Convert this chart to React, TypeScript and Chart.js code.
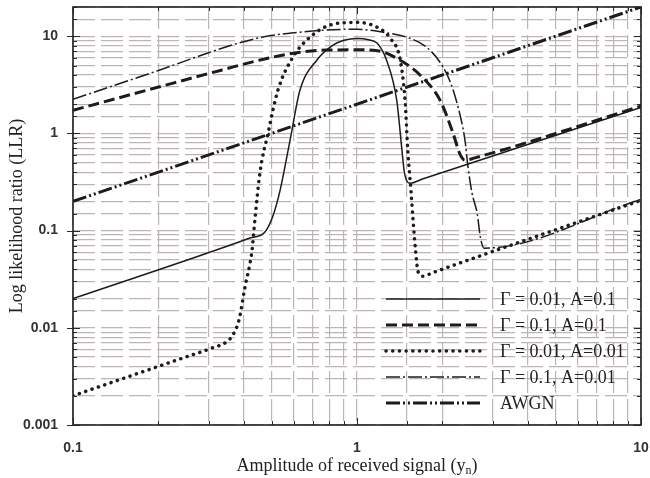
import React, { useEffect, useRef } from 'react';
import { Chart, registerables } from 'chart.js';

Chart.register(...registerables);

// Axis ranges and labelled ticks
const X_MIN = 0.1;
const X_MAX = 10;
const Y_MIN = 0.001;
const Y_MAX = 20;
const X_TICK_LABELS = [0.1, 1, 10];
const Y_TICK_LABELS = [0.001, 0.01, 0.1, 1, 10];

const X_TITLE = 'Amplitude of received signal (y';
const X_TITLE_SUB = 'n';
const Y_TITLE = 'Log likelihood ratio (LLR)';

const seriesLabels = [
  'Γ = 0.01, A=0.1',
  'Γ = 0.1, A=0.1',
  'Γ = 0.01, A=0.01',
  'Γ = 0.1, A=0.01',
  'AWGN',
];

// Γ = 0.01, A = 0.1 (solid)
const g001a01X = [0.1, 0.42, 0.474, 0.505, 0.536, 0.581, 0.63, 0.723, 0.823, 0.9, 1.0, 1.1, 1.176, 1.27, 1.38, 1.44, 1.47, 1.54, 1.7, 10];
const g001a01Y = [0.02, 0.084, 0.097, 0.14, 0.26, 0.85, 2.8, 5.7, 8.1, 9.1, 9.5, 9.2, 8.5, 5.7, 2.2, 0.67, 0.39, 0.308, 0.34, 1.85];

// Γ = 0.1, A = 0.1 (dashed)
const g01a01X = [0.1, 0.2, 0.33, 0.48, 0.63, 0.78, 1.0, 1.18, 1.42, 1.67, 1.96, 2.18, 2.3, 2.4, 2.6, 10];
const g01a01Y = [1.73, 3.0, 4.45, 5.9, 6.85, 7.2, 7.25, 7.1, 5.66, 3.97, 2.2, 1.0, 0.62, 0.53, 0.56, 1.91];

// Γ = 0.01, A = 0.01 (dotted)
const g001a001X = [0.1, 0.244, 0.309, 0.348, 0.366, 0.384, 0.403, 0.427, 0.437, 0.455, 0.486, 0.527, 0.595, 0.683, 0.823, 1.0, 1.176, 1.31, 1.42, 1.476, 1.51, 1.55, 1.575, 1.61, 1.64, 1.71, 1.85, 10];
const g001a001Y = [0.002, 0.0049, 0.0062, 0.0072, 0.0085, 0.012, 0.026, 0.063, 0.129, 0.39, 1.0, 2.8, 6.1, 9.8, 13.3, 13.9, 12.4, 9.5, 5.66, 2.2, 0.67, 0.25, 0.13, 0.06, 0.038, 0.034, 0.037, 0.205];

// Γ = 0.1, A = 0.01 (dash-dot)
const g01a001X = [0.1, 0.2, 0.28, 0.366, 0.482, 0.63, 0.823, 1.0, 1.235, 1.5, 1.76, 1.96, 2.12, 2.27, 2.4, 2.46, 2.54, 2.65, 2.72, 2.8, 10];
const g01a001Y = [2.25, 4.45, 6.3, 8.2, 10.0, 11.0, 11.7, 11.8, 11.0, 9.77, 7.7, 5.4, 3.5, 1.86, 0.85, 0.45, 0.245, 0.15, 0.085, 0.066, 0.21];

// AWGN (dash-dot-dot)
const awgnX = [0.1, 10];
const awgnY = [0.2, 20];

const seriesX = [g001a01X, g01a01X, g001a001X, g01a001X, awgnX];
const seriesY = [g001a01Y, g01a01Y, g001a001Y, g01a001Y, awgnY];

const LINE_COLOR = '#1c1c1c';
const lineStyles = [
  { borderWidth: 1.5, borderDash: [] as number[], borderCapStyle: 'butt' },
  { borderWidth: 3, borderDash: [11, 5], borderCapStyle: 'butt' },
  { borderWidth: 3.5, borderDash: [0.1, 6.6], borderCapStyle: 'round' },
  { borderWidth: 1.5, borderDash: [14, 3, 2, 3], borderCapStyle: 'butt' },
  { borderWidth: 3, borderDash: [14, 3, 2, 3, 2, 3], borderCapStyle: 'butt' },
];

const isDecade = (v: number) => {
  const e = Math.log10(v);
  return Math.abs(e - Math.round(e)) < 1e-6;
};
const findLabel = (v: number, list: number[]) => {
  const hit = list.find((t) => Math.abs(Math.log10(t) - Math.log10(v)) < 1e-6);
  return hit === undefined ? '' : String(hit);
};

const SERIF = '"Liberation Serif", "Times New Roman", serif';
const SANS = '"Liberation Sans", Arial, sans-serif';

const framePlugin = {
  id: 'frameTicks',
  afterDraw(chart: any) {
    const { ctx, chartArea: a, scales } = chart;
    ctx.save();
    ctx.strokeStyle = '#2a2a2a';
    ctx.lineWidth = 1;
    ctx.setLineDash([]);
    // inward ticks
    ctx.beginPath();
    for (const t of scales.x.ticks) {
      const px = Math.round(scales.x.getPixelForValue(t.value)) + 0.5;
      const len = isDecade(t.value) ? 7 : 4;
      ctx.moveTo(px, a.bottom);
      ctx.lineTo(px, a.bottom - len);
      ctx.moveTo(px, a.top);
      ctx.lineTo(px, a.top + len);
    }
    for (const t of scales.y.ticks) {
      const py = Math.round(scales.y.getPixelForValue(t.value)) + 0.5;
      const len = isDecade(t.value) ? 7 : 4;
      ctx.moveTo(a.left - (isDecade(t.value) ? 6 : 0), py);
      ctx.lineTo(a.left + len, py);
      ctx.moveTo(a.right, py);
      ctx.lineTo(a.right - len, py);
    }
    ctx.stroke();
    // frame
    ctx.lineWidth = 1.6;
    ctx.strokeStyle = '#222';
    ctx.strokeRect(a.left, a.top, a.right - a.left, a.bottom - a.top);

    // x title with subscript
    ctx.fillStyle = '#222';
    ctx.textBaseline = 'middle';
    const mainFont = `18px ${SERIF}`;
    const subFont = `12px ${SERIF}`;
    ctx.font = mainFont;
    const w1 = ctx.measureText(X_TITLE).width;
    const w3 = ctx.measureText(')').width;
    ctx.font = subFont;
    const w2 = ctx.measureText(X_TITLE_SUB).width;
    const total = w1 + w2 + w3;
    const cx = (a.left + a.right) / 2;
    const ty = 466;
    const x0 = cx - total / 2;
    ctx.textAlign = 'left';
    ctx.font = mainFont;
    ctx.fillText(X_TITLE, x0, ty);
    ctx.font = subFont;
    ctx.fillText(X_TITLE_SUB, x0 + w1, ty + 5);
    ctx.font = mainFont;
    ctx.fillText(')', x0 + w1 + w2, ty);
    ctx.restore();
  },
};

const legendPlugin = {
  id: 'insideLegend',
  afterDatasetsDraw(chart: any) {
    const { ctx } = chart;
    ctx.save();
    chart.data.datasets.forEach((ds: any, i: number) => {
      const y = 299 + i * 26;
      ctx.beginPath();
      ctx.strokeStyle = LINE_COLOR;
      ctx.lineWidth = ds.borderWidth;
      ctx.lineCap = ds.borderCapStyle;
      ctx.setLineDash(ds.borderDash);
      ctx.moveTo(386, y);
      ctx.lineTo(480, y);
      ctx.stroke();
      ctx.setLineDash([]);
      ctx.fillStyle = '#222';
      ctx.font = `18px ${SERIF}`;
      ctx.textAlign = 'left';
      ctx.textBaseline = 'middle';
      ctx.fillText(ds.label, 500, y + 1);
    });
    ctx.restore();
  },
};

const zeroPadding = (s: any) => {
  s.paddingTop = 0;
  s.paddingBottom = 0;
  s.paddingLeft = 0;
  s.paddingRight = 0;
};

export default function App() {
  const ref = useRef<HTMLCanvasElement>(null);

  useEffect(() => {
    document.body.style.margin = '0';
    const canvas = ref.current;
    if (!canvas) return;

    const datasets = seriesLabels.map((label, i) => ({
      label,
      data: seriesX[i].map((x, k) => ({ x, y: seriesY[i][k] })),
      borderColor: LINE_COLOR,
      backgroundColor: LINE_COLOR,
      borderWidth: lineStyles[i].borderWidth,
      borderDash: lineStyles[i].borderDash,
      borderCapStyle: lineStyles[i].borderCapStyle,
      borderJoinStyle: 'round',
      pointRadius: 0,
      fill: false,
      cubicInterpolationMode: 'monotone',
    }));

    const gridCommon = {
      color: '#bdb5b5',
      lineWidth: 1.2,
      drawTicks: false,
    };

    const chart = new Chart(canvas, {
      type: 'line',
      data: { datasets: datasets as any },
      plugins: [framePlugin, legendPlugin],
      options: {
        responsive: false,
        animation: false,
        events: [],
        layout: { padding: { left: 0, top: 7, right: 9, bottom: 0 } },
        plugins: {
          legend: { display: false },
          tooltip: { enabled: false },
        },
        scales: {
          x: {
            type: 'logarithmic',
            min: X_MIN,
            max: X_MAX,
            grid: gridCommon,
            border: { display: false, dash: [22, 6] },
            ticks: {
              autoSkip: false,
              maxRotation: 0,
              padding: 15,
              color: '#333',
              font: { family: SANS, size: 14, weight: 'bold' },
              callback: (v: any) => findLabel(Number(v), X_TICK_LABELS),
            },
            afterFit: (s: any) => {
              s.height = 53;
              zeroPadding(s);
            },
          },
          y: {
            type: 'logarithmic',
            min: Y_MIN,
            max: Y_MAX,
            grid: gridCommon,
            border: { display: false, dash: [22, 6] },
            title: {
              display: true,
              text: Y_TITLE,
              color: '#222',
              font: { family: SERIF, size: 18 },
              padding: { top: 6, bottom: 0 },
            },
            ticks: {
              autoSkip: false,
              padding: 15,
              color: '#333',
              font: { family: SANS, size: 14, weight: 'bold' },
              callback: (v: any) => findLabel(Number(v), Y_TICK_LABELS),
            },
            afterFit: (s: any) => {
              s.width = 73;
              zeroPadding(s);
            },
          },
        },
      } as any,
    });

    return () => chart.destroy();
  }, []);

  return (
    <div style={{ width: 650, height: 478 }}>
      <canvas ref={ref} width={650} height={478} style={{ display: 'block' }} />
    </div>
  );
}
